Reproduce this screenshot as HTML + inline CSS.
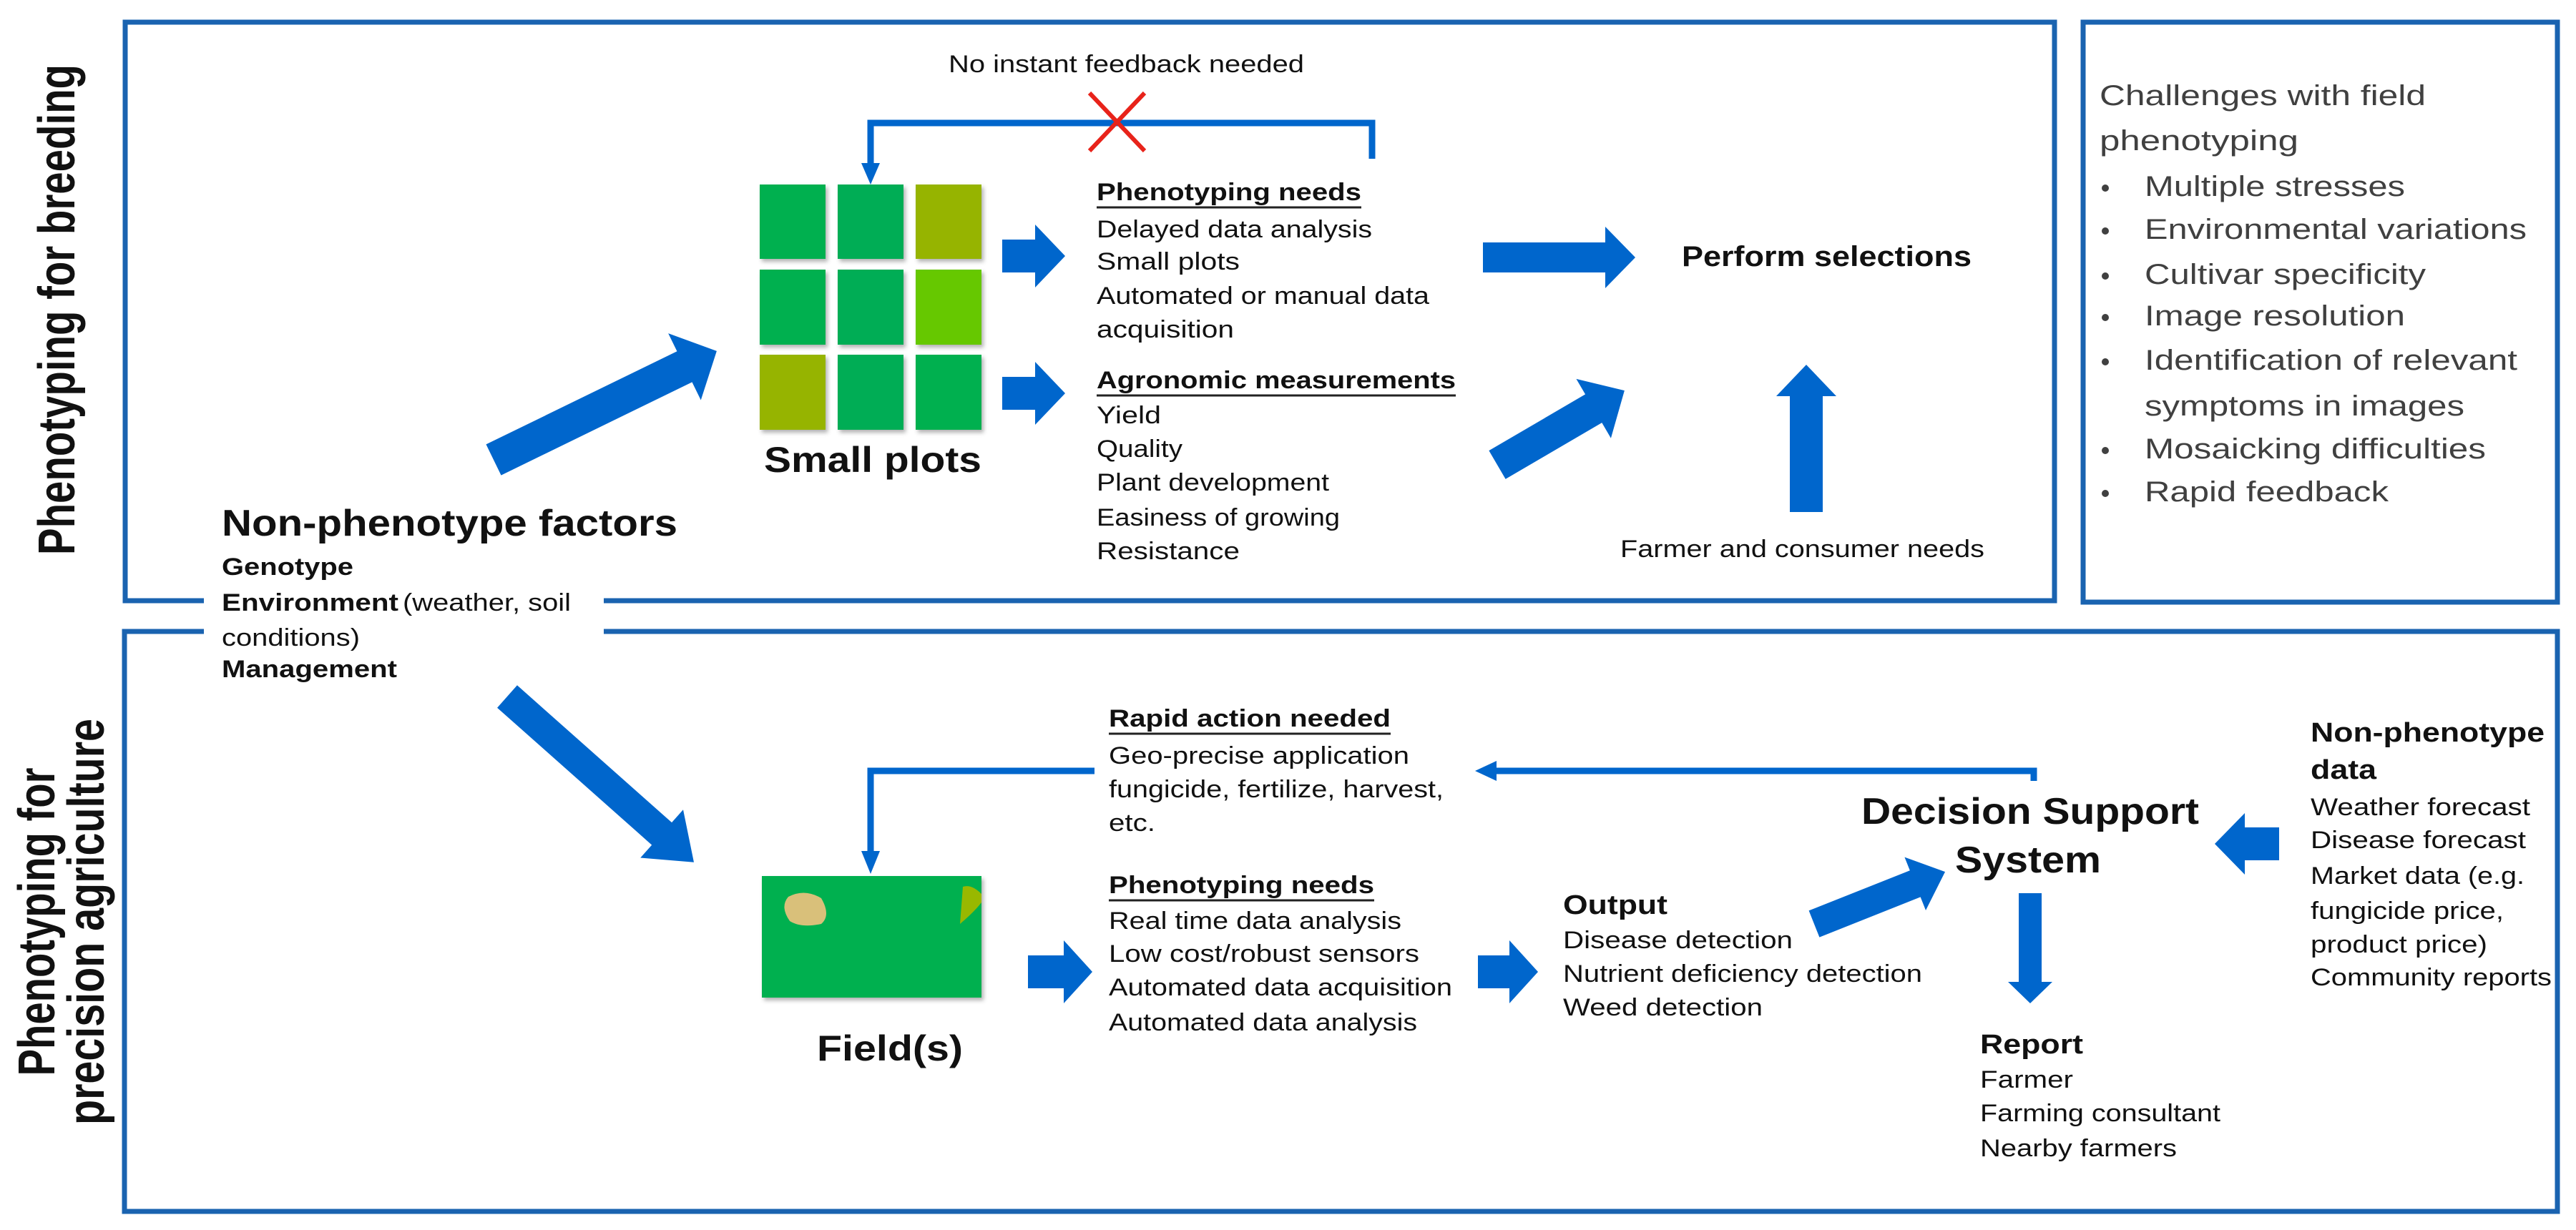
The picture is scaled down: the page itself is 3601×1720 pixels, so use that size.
<!DOCTYPE html>
<html><head><meta charset="utf-8"><style>
html,body{margin:0;padding:0;background:#fff;}
svg{display:block;}
text{font-family:"Liberation Sans",Arial,sans-serif;dominant-baseline:central;fill:#111;}
.b{font-weight:bold;}
.n{font-size:34px;}
.g{fill:#404040;font-size:40px;}
</style></head><body>
<svg width="3601" height="1720" viewBox="0 0 3601 1720" xmlns="http://www.w3.org/2000/svg">
<defs>
<filter id="sh" x="-10%" y="-10%" width="130%" height="130%"><feDropShadow dx="3" dy="4" stdDeviation="3" flood-color="#000" flood-opacity="0.3"/></filter>
</defs>
<g fill="none" stroke="#1a63b0" stroke-width="7">
<polyline points="285,840 175,840 175,31 2872,31 2872,840 844,840"/>
<rect x="2912" y="31" width="663" height="811"/>
<polyline points="285,883 174,883 174,1694 3575,1694 3575,883 844,883"/>
</g>

<!-- vertical labels -->
<text class="b" transform="translate(80,433) rotate(-90)" text-anchor="middle" font-size="72" textLength="686" lengthAdjust="spacingAndGlyphs">Phenotyping for breeding</text>
<text class="b" transform="translate(52,1289) rotate(-90)" text-anchor="middle" font-size="72" textLength="431" lengthAdjust="spacingAndGlyphs">Phenotyping for</text>
<text class="b" transform="translate(121,1289) rotate(-90)" text-anchor="middle" font-size="72" textLength="568" lengthAdjust="spacingAndGlyphs">precision agriculture</text>

<!-- feedback top -->
<text class="n" x="1326" y="90" textLength="497" lengthAdjust="spacingAndGlyphs">No instant feedback needed</text>
<polyline points="1918,222 1918,172 1217,172 1217,232" fill="none" stroke="#0066cc" stroke-width="9"/>
<polygon points="1204,228 1230,228 1217,258" fill="#0066cc"/>
<g stroke="#e8231a" stroke-width="6"><line x1="1523" y1="130" x2="1600" y2="211"/><line x1="1600" y1="130" x2="1523" y2="211"/></g>

<!-- grid -->
<g filter="url(#sh)">
<rect x="1062" y="258" width="92" height="104" fill="#00b050"/>
<rect x="1171" y="258" width="92" height="104" fill="#00ad55"/>
<rect x="1280" y="258" width="92" height="104" fill="#96b400"/>
<rect x="1062" y="377" width="92" height="105" fill="#00b050"/>
<rect x="1171" y="377" width="92" height="105" fill="#00ad55"/>
<rect x="1280" y="377" width="92" height="105" fill="#66c800"/>
<rect x="1062" y="496" width="92" height="105" fill="#96b400"/>
<rect x="1171" y="496" width="92" height="105" fill="#00ad55"/>
<rect x="1280" y="496" width="92" height="105" fill="#00b050"/>
</g>
<text class="b" x="1068" y="643" font-size="50" textLength="304" lengthAdjust="spacingAndGlyphs">Small plots</text>

<!-- arrows -->
<g fill="#0066cc">
<polygon transform="translate(690,643) rotate(-26)" points="0,-24 297,-24 297,-52 347,0 297,52 297,24 0,24"/>
<polygon transform="translate(1401,358)" points="0,-23 46,-23 46,-44 88,0 46,44 46,23 0,23"/>
<polygon transform="translate(1401,550)" points="0,-23 46,-23 46,-44 88,0 46,44 46,23 0,23"/>
<polygon transform="translate(2073,360)" points="0,-21 171,-21 171,-43 213,0 171,43 171,21 0,21"/>
<polygon transform="translate(2093,650) rotate(-30.3)" points="0,-23 156,-23 156,-48 206,0 156,48 156,23 0,23"/>
<polygon transform="translate(2525,716) rotate(-90)" points="0,-23 162,-23 162,-42 206,0 162,42 162,23 0,23"/>
<polygon transform="translate(709,974) rotate(41.6)" points="0,-21 289,-21 289,-45 349,0 289,45 289,21 0,21"/>
<polygon transform="translate(1437,1359)" points="0,-23 50,-23 50,-44 90,0 50,44 50,23 0,23"/>
<polygon transform="translate(2066,1359)" points="0,-23 44,-23 44,-44 84,0 44,44 44,23 0,23"/>
<polygon transform="translate(2536,1292) rotate(-21.7)" points="0,-20 152,-20 152,-40 197,0 152,40 152,20 0,20"/>
<polygon transform="translate(3186,1180) rotate(180)" points="0,-23 48,-23 48,-43 90,0 48,43 48,23 0,23"/>
<polygon transform="translate(2838,1249) rotate(90)" points="0,-16 124,-16 124,-31 154,0 124,31 124,16 0,16"/>
</g>

<!-- phenotyping needs top -->
<text class="n b" x="1533" y="269" textLength="370" lengthAdjust="spacingAndGlyphs">Phenotyping needs</text>
<line x1="1533" y1="290" x2="1903" y2="290" stroke="#222" stroke-width="3"/>
<text class="n" x="1533" y="321" textLength="385" lengthAdjust="spacingAndGlyphs">Delayed data analysis</text>
<text class="n" x="1533" y="366" textLength="200" lengthAdjust="spacingAndGlyphs">Small plots</text>
<text class="n" x="1533" y="414" textLength="465" lengthAdjust="spacingAndGlyphs">Automated or manual data</text>
<text class="n" x="1533" y="461" textLength="192" lengthAdjust="spacingAndGlyphs">acquisition</text>

<text class="n b" x="1533" y="532" textLength="502" lengthAdjust="spacingAndGlyphs">Agronomic measurements</text>
<line x1="1533" y1="553" x2="2035" y2="553" stroke="#222" stroke-width="3"/>
<text class="n" x="1533" y="581" textLength="90" lengthAdjust="spacingAndGlyphs">Yield</text>
<text class="n" x="1533" y="628" textLength="120" lengthAdjust="spacingAndGlyphs">Quality</text>
<text class="n" x="1533" y="675" textLength="325" lengthAdjust="spacingAndGlyphs">Plant development</text>
<text class="n" x="1533" y="724" textLength="340" lengthAdjust="spacingAndGlyphs">Easiness of growing</text>
<text class="n" x="1533" y="771" textLength="200" lengthAdjust="spacingAndGlyphs">Resistance</text>

<text class="b" x="2351" y="359" font-size="40" textLength="405" lengthAdjust="spacingAndGlyphs">Perform selections</text>
<text class="n" x="2265" y="768" textLength="509" lengthAdjust="spacingAndGlyphs">Farmer and consumer needs</text>

<!-- challenges -->
<text class="g" x="2935" y="134" textLength="456" lengthAdjust="spacingAndGlyphs">Challenges with field</text>
<text class="g" x="2935" y="197" textLength="278" lengthAdjust="spacingAndGlyphs">phenotyping</text>
<g fill="#404040">
<circle cx="2943" cy="263" r="5"/><circle cx="2943" cy="323" r="5"/><circle cx="2943" cy="386" r="5"/><circle cx="2943" cy="444" r="5"/><circle cx="2943" cy="506" r="5"/><circle cx="2943" cy="630" r="5"/><circle cx="2943" cy="690" r="5"/>
</g>
<text class="g" x="2998" y="261" textLength="364" lengthAdjust="spacingAndGlyphs">Multiple stresses</text>
<text class="g" x="2998" y="321" textLength="534" lengthAdjust="spacingAndGlyphs">Environmental variations</text>
<text class="g" x="2998" y="384" textLength="393" lengthAdjust="spacingAndGlyphs">Cultivar specificity</text>
<text class="g" x="2998" y="442" textLength="364" lengthAdjust="spacingAndGlyphs">Image resolution</text>
<text class="g" x="2998" y="504" textLength="521" lengthAdjust="spacingAndGlyphs">Identification of relevant</text>
<text class="g" x="2998" y="568" textLength="447" lengthAdjust="spacingAndGlyphs">symptoms in images</text>
<text class="g" x="2998" y="628" textLength="477" lengthAdjust="spacingAndGlyphs">Mosaicking difficulties</text>
<text class="g" x="2998" y="688" textLength="341" lengthAdjust="spacingAndGlyphs">Rapid feedback</text>

<!-- non-phenotype factors -->
<text class="b" x="310" y="732" font-size="52" textLength="637" lengthAdjust="spacingAndGlyphs">Non-phenotype  factors</text>
<text class="n b" x="310" y="793" textLength="184" lengthAdjust="spacingAndGlyphs">Genotype</text>
<text class="n b" x="310" y="843" textLength="247" lengthAdjust="spacingAndGlyphs">Environment</text>
<text class="n" x="563" y="843" textLength="235" lengthAdjust="spacingAndGlyphs">(weather, soil</text>
<text class="n" x="310" y="892" textLength="193" lengthAdjust="spacingAndGlyphs">conditions)</text>
<text class="n b" x="310" y="936" textLength="245" lengthAdjust="spacingAndGlyphs">Management</text>

<!-- bottom section -->
<polyline points="1530,1078 1217,1078 1217,1192" fill="none" stroke="#0066cc" stroke-width="9"/>
<polygon points="1204,1190 1230,1190 1217,1222" fill="#0066cc"/>
<polyline points="2843,1092 2843,1078 2085,1078" fill="none" stroke="#0066cc" stroke-width="9"/>
<polygon points="2062,1078 2092,1064 2092,1092" fill="#0066cc"/>

<rect x="1065" y="1225" width="307" height="170" fill="#00b050" filter="url(#sh)"/>
<path d="M1102,1254 Q1125,1242 1148,1256 Q1162,1280 1148,1292 Q1120,1298 1104,1288 Q1090,1268 1102,1254Z" fill="#d9c07a"/>
<path d="M1372,1250 Q1358,1236 1346,1240 L1342,1292 Q1362,1275 1372,1262Z" fill="#99b800"/>
<text class="b" x="1142" y="1466" font-size="50" textLength="204" lengthAdjust="spacingAndGlyphs">Field(s)</text>

<text class="n b" x="1550" y="1005" textLength="394" lengthAdjust="spacingAndGlyphs">Rapid action needed</text>
<line x1="1550" y1="1026" x2="1944" y2="1026" stroke="#222" stroke-width="3"/>
<text class="n" x="1550" y="1057" textLength="420" lengthAdjust="spacingAndGlyphs">Geo-precise application</text>
<text class="n" x="1550" y="1104" textLength="468" lengthAdjust="spacingAndGlyphs">fungicide, fertilize, harvest,</text>
<text class="n" x="1550" y="1151" textLength="65" lengthAdjust="spacingAndGlyphs">etc.</text>

<text class="n b" x="1550" y="1238" textLength="371" lengthAdjust="spacingAndGlyphs">Phenotyping needs</text>
<line x1="1550" y1="1259" x2="1921" y2="1259" stroke="#222" stroke-width="3"/>
<text class="n" x="1550" y="1288" textLength="409" lengthAdjust="spacingAndGlyphs">Real time data analysis</text>
<text class="n" x="1550" y="1334" textLength="434" lengthAdjust="spacingAndGlyphs">Low cost/robust sensors</text>
<text class="n" x="1550" y="1381" textLength="480" lengthAdjust="spacingAndGlyphs">Automated data acquisition</text>
<text class="n" x="1550" y="1430" textLength="431" lengthAdjust="spacingAndGlyphs">Automated data analysis</text>

<text class="b" x="2185" y="1266" font-size="38" textLength="146" lengthAdjust="spacingAndGlyphs">Output</text>
<text class="n" x="2185" y="1315" textLength="321" lengthAdjust="spacingAndGlyphs">Disease detection</text>
<text class="n" x="2185" y="1362" textLength="502" lengthAdjust="spacingAndGlyphs">Nutrient deficiency detection</text>
<text class="n" x="2185" y="1409" textLength="279" lengthAdjust="spacingAndGlyphs">Weed detection</text>

<text class="b" x="2838" y="1135" font-size="52" text-anchor="middle" textLength="472" lengthAdjust="spacingAndGlyphs">Decision Support</text>
<text class="b" x="2835" y="1203" font-size="52" text-anchor="middle" textLength="204" lengthAdjust="spacingAndGlyphs">System</text>

<text class="b" x="2768" y="1461" font-size="38" textLength="144" lengthAdjust="spacingAndGlyphs">Report</text>
<text class="n" x="2768" y="1510" textLength="130" lengthAdjust="spacingAndGlyphs">Farmer</text>
<text class="n" x="2768" y="1557" textLength="336" lengthAdjust="spacingAndGlyphs">Farming consultant</text>
<text class="n" x="2768" y="1606" textLength="275" lengthAdjust="spacingAndGlyphs">Nearby farmers</text>

<text class="b" x="3230" y="1025" font-size="38" textLength="327" lengthAdjust="spacingAndGlyphs">Non-phenotype</text>
<text class="b" x="3230" y="1077" font-size="38" textLength="92" lengthAdjust="spacingAndGlyphs">data</text>
<text class="n" x="3230" y="1129" textLength="307" lengthAdjust="spacingAndGlyphs">Weather forecast</text>
<text class="n" x="3230" y="1175" textLength="301" lengthAdjust="spacingAndGlyphs">Disease forecast</text>
<text class="n" x="3230" y="1225" textLength="299" lengthAdjust="spacingAndGlyphs">Market data (e.g.</text>
<text class="n" x="3230" y="1274" textLength="270" lengthAdjust="spacingAndGlyphs">fungicide price,</text>
<text class="n" x="3230" y="1321" textLength="247" lengthAdjust="spacingAndGlyphs">product price)</text>
<text class="n" x="3230" y="1367" textLength="337" lengthAdjust="spacingAndGlyphs">Community reports</text>
</svg>
</body></html>
